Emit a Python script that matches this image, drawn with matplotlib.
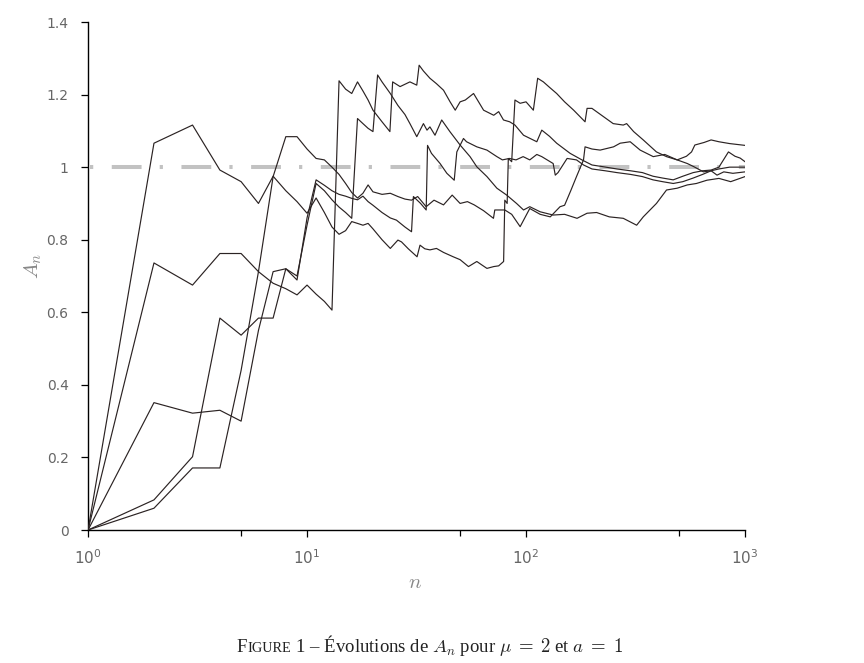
import matplotlib
matplotlib.use("Agg")
import matplotlib.pyplot as plt
from matplotlib.ticker import FixedLocator, FixedFormatter, NullFormatter
from matplotlib.offsetbox import TextArea, HPacker, AnchoredOffsetbox

plt.rcParams['mathtext.fontset'] = 'cm'
plt.rcParams['font.family'] = 'DejaVu Sans'

# --- values (five runs of A_n) ---
n_a = [1, 2, 3, 4, 5, 6, 7, 8, 9, 10, 11, 12, 13, 14, 15, 16, 17, 18, 19, 20,
       22, 24, 26, 27, 29, 31.8, 32.8, 34.5, 36.4, 39, 42, 46.5, 50, 54.6, 59.6, 63, 66.3, 71.2, 75, 79,
       80, 82, 83, 86, 89, 94, 100, 108, 113, 120, 128, 138, 150, 165, 186, 190, 200, 226, 250, 278,
       288, 310, 343, 394, 438, 490, 545, 585, 646, 700, 745, 800, 880, 1000]
a_a = [0, 1.066, 1.116, 0.992, 0.96, 0.90, 0.975, 0.935, 0.905, 0.873, 0.915, 0.875, 0.835, 0.815, 0.825, 0.85, 0.845, 0.84, 0.845, 0.83,
       0.80, 0.776, 0.799, 0.794, 0.775, 0.753, 0.785, 0.775, 0.772, 0.776, 0.765, 0.753, 0.745, 0.726, 0.74, 0.73, 0.721, 0.726, 0.728, 0.74,
       0.909, 0.90, 1.024, 1.015, 1.185, 1.176, 1.18, 1.157, 1.245, 1.235, 1.22, 1.203, 1.18, 1.157, 1.125, 1.162, 1.162, 1.139, 1.12, 1.116,
       1.12, 1.098, 1.075, 1.042, 1.029, 1.02, 1.01, 1.001, 0.987, 0.99, 0.978, 0.987, 0.983, 0.987]

n_b = [1, 2, 3, 4, 5, 6, 7, 8, 9, 10, 11, 12, 13, 14, 15, 16, 17, 18, 19, 20,
       22, 23.9, 24.6, 26.6, 29.5, 31.7, 32.5, 34, 36.4, 39, 42, 45, 47.5, 50, 52.8, 57.6, 64, 71.2, 75, 78.9,
       84.2, 89, 97.4, 112, 118, 128, 138, 159, 180, 200, 226, 260, 300, 340, 380, 420, 470, 520, 580, 640,
       700, 760, 840, 900, 950, 1000]
a_b = [0, 0.736, 0.675, 0.762, 0.762, 0.712, 0.68, 0.665, 0.648, 0.675, 0.65, 0.63, 0.606, 1.238, 1.215, 1.203, 1.235, 1.21, 1.185, 1.157,
       1.125, 1.098, 1.235, 1.222, 1.235, 1.226, 1.281, 1.265, 1.245, 1.23, 1.212, 1.18, 1.157, 1.18, 1.185, 1.203, 1.157, 1.143, 1.153, 1.13,
       1.125, 1.116, 1.088, 1.07, 1.102, 1.085, 1.066, 1.038, 1.02, 1.006, 1.001, 0.995, 0.99, 0.985, 0.975, 0.97, 0.965, 0.975, 0.985, 0.99,
       0.992, 1.0, 1.042, 1.03, 1.025, 1.015]

n_c = [1, 2, 3, 4, 5, 6, 7, 8, 9, 10, 11, 12, 13, 14, 15, 16, 17, 18, 19, 20,
       22, 24, 25.6, 28, 30, 30.6, 33, 35, 35.5, 37, 40.5, 43.5, 47, 48.3, 51.8, 53.5, 59.6, 66.3, 73.6, 78,
       84, 90, 97, 104, 112, 118, 133, 136, 140, 154, 170, 183, 200, 230, 260, 300, 340, 380, 420, 470,
       520, 580, 640, 700, 760, 850, 1000]
a_c = [0, 0.351, 0.322, 0.33, 0.30, 0.55, 0.712, 0.72, 0.689, 0.86, 0.965, 0.95, 0.935, 0.925, 0.92, 0.914, 0.91, 0.92, 0.905, 0.895,
       0.875, 0.86, 0.854, 0.835, 0.822, 0.919, 0.90, 0.882, 1.06, 1.038, 1.01, 0.983, 0.964, 1.042, 1.079, 1.07, 1.056, 1.047, 1.029, 1.02,
       1.024, 1.02, 1.029, 1.02, 1.035, 1.029, 1.01, 0.978, 0.985, 1.024, 1.02, 1.006, 0.995, 0.99, 0.985, 0.98, 0.974, 0.965, 0.96, 0.955,
       0.96, 0.97, 0.98, 0.99, 0.995, 1.0, 1.0]

n_d = [1, 2, 3, 4, 5, 6, 7, 8, 9, 10, 11, 12, 13, 14, 15, 16, 17, 18, 19, 20,
       21, 22, 24, 26, 28, 29.5, 31.7, 34, 35.3, 36.4, 38.4, 41.2, 44.9, 50, 55.5, 59.6, 66.3, 73.6, 81.6, 90.5,
       97.4, 104, 116, 133, 150, 171, 190, 210, 240, 278, 320, 343, 394, 438, 490, 545, 600, 670, 760, 860,
       1000]
a_d = [0, 0.083, 0.202, 0.584, 0.537, 0.584, 0.584, 0.72, 0.70, 0.84, 0.955, 0.935, 0.91, 0.89, 0.875, 0.859, 1.134, 1.12, 1.107, 1.098,
       1.254, 1.235, 1.203, 1.17, 1.145, 1.12, 1.084, 1.12, 1.102, 1.111, 1.088, 1.13, 1.098, 1.061, 1.029, 1.001, 0.974, 0.942, 0.923, 0.90,
       0.882, 0.891, 0.877, 0.868, 0.87, 0.859, 0.873, 0.875, 0.863, 0.859, 0.84, 0.863, 0.90, 0.937, 0.942, 0.951, 0.955, 0.964, 0.969, 0.96,
       0.974]

n_e = [1, 2, 3, 4, 5, 6, 7, 8, 9, 10, 11, 12, 13, 14, 15, 16, 17, 18, 19, 20,
       22, 24, 26, 28, 30, 32, 35, 38, 42, 46, 50, 54, 58, 64, 71, 72, 80, 86, 94, 104,
       116, 129, 143, 150, 160, 170, 183, 186, 200, 218, 251, 269, 299, 332, 381, 430, 490, 540, 570, 590,
       650, 700, 760, 850, 1000]
a_e = [0, 0.06, 0.171, 0.171, 0.44, 0.712, 0.974, 1.084, 1.084, 1.05, 1.024, 1.02, 1.0, 0.98, 0.955, 0.93, 0.915, 0.928, 0.951, 0.932,
       0.925, 0.928, 0.919, 0.912, 0.909, 0.919, 0.891, 0.909, 0.896, 0.923, 0.90, 0.905, 0.896, 0.88, 0.859, 0.882, 0.882, 0.87, 0.836, 0.886,
       0.87, 0.863, 0.891, 0.895, 0.935, 0.974, 1.02, 1.056, 1.05, 1.047, 1.056, 1.066, 1.07, 1.047, 1.029, 1.035, 1.02, 1.03, 1.042, 1.061,
       1.068, 1.075, 1.07, 1.065, 1.06]

runs = [(n_a, a_a), (n_b, a_b), (n_c, a_c), (n_d, a_d), (n_e, a_e)]

limit = 1.0
y_ticks = [0, 0.2, 0.4, 0.6, 0.8, 1.0, 1.2, 1.4]
y_labels = ['0', '0.2', '0.4', '0.6', '0.8', '1', '1.2', '1.4']
x_major = [1, 10, 100, 1000]
x_minor = [5, 50, 500]

# --- figure ---
fig = plt.figure(figsize=(8.64, 6.63), dpi=100)
ax = fig.add_axes([0.1019, 0.2006, 0.7604, 0.7662])
ax.set_xscale('log')

# limit line, grey dash-dot
ax.plot([1, 1000], [limit, limit], color='#c2c2c2', lw=2.9,
        linestyle=(11.4, (7.4, 4.5, 0.8, 4.6)), dash_capstyle='butt', zorder=1)

for n, a in runs:
    ax.plot(n, a, color='#2b2323', lw=0.85, zorder=3)

ax.set_xlim(1, 1000)
ax.set_ylim(0, 1.4)

for side in ['top', 'right']:
    ax.spines[side].set_visible(False)
for side in ['left', 'bottom']:
    ax.spines[side].set_linewidth(1.0)

ax.yaxis.set_major_locator(FixedLocator(y_ticks))
ax.yaxis.set_major_formatter(FixedFormatter(y_labels))
ax.xaxis.set_major_locator(FixedLocator(x_major))
ax.xaxis.set_minor_locator(FixedLocator(x_minor))
ax.xaxis.set_minor_formatter(NullFormatter())

ax.tick_params(axis='y', direction='out', length=5, width=0.9, pad=9,
               labelsize=10, labelcolor='#666666')
ax.tick_params(axis='x', which='major', direction='out', length=5, width=0.9,
               pad=8, labelsize=11, labelcolor='#666666')
ax.tick_params(axis='x', which='minor', direction='out', length=4, width=0.9)

fig.text(415 / 864, 1 - 582 / 663, '$n$', color='#888888', fontsize=15,
         ha='center', va='center')
fig.text(33 / 864, 1 - 266 / 663, '$A_n$', color='#888888', fontsize=15,
         rotation=90, ha='center', va='center')

# caption with small caps "Figure"
serif = dict(family='Liberation Serif', color='#222222')
parts = [TextArea('F', textprops=dict(size=13.5, **serif)),
         TextArea('IGURE', textprops=dict(size=10.3, **serif)),
         TextArea(' 1 \u2013 \u00c9volutions de $A_n$ pour $\\mu\\;=\\;2$ et $a\\;=\\;1$',
                  textprops=dict(size=13.5, **serif))]
caption = HPacker(children=parts, align='baseline', pad=0, sep=0)
anchored = AnchoredOffsetbox(loc='center', child=caption, frameon=False,
                             bbox_to_anchor=(430 / 864, 1 - 645 / 663),
                             bbox_transform=fig.transFigure, borderpad=0, pad=0)
fig.add_artist(anchored)

fig.savefig('out.png', dpi=100, facecolor='white')
